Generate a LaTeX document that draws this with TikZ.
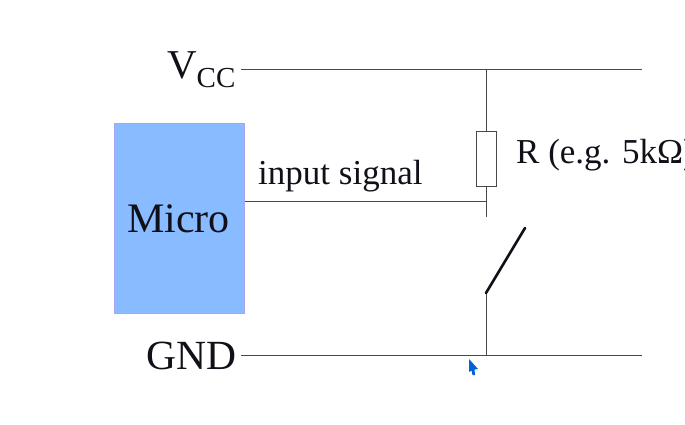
\documentclass[tikz,border=0pt]{standalone}
\usepackage{fontspec}
\setmainfont{Liberation Serif}
\definecolor{microblue}{HTML}{88BBFF}
\definecolor{microedge}{HTML}{A8A4F4}
\definecolor{wire}{HTML}{484848}
\definecolor{ink}{HTML}{101018}
\tikzset{
  wireline/.style={draw=wire,line width=0.95pt},
  microbox/.style={draw=microedge,fill=microblue,line width=0.7pt,minimum width=130pt,minimum height=190pt,inner sep=0pt,outer sep=0pt,anchor=north west},
  resbox/.style={draw=wire,fill=white,line width=1pt,minimum width=20pt,minimum height=54pt,inner sep=0pt},
  lab/.style={inner sep=0pt,text=ink,anchor=base west},
  switcharm/.style={draw=ink,line width=2.6pt,line cap=round},
}
\begin{document}
\begin{tikzpicture}[x=1pt,y=-1pt]
\useasboundingbox (0,0) rectangle (685,425);
\node[microbox] (micro) at (114.7,123) {};
\node[lab,font=\fontsize{42}{42}\selectfont] (microlab) at (127,232) {Micro};
\node[lab,font=\fontsize{41}{41}\selectfont] (vcclab) at (167,79) {V};
\node[lab,font=\fontsize{29}{29}\selectfont] (cclab) at (196.5,88) {CC};
\node[lab,font=\fontsize{41.5}{41.5}\selectfont] (gndlab) at (146,369) {GND};
\node[lab,font=\fontsize{35}{35}\selectfont] (inlab) at (258,184) {input signal};
\node[lab,font=\fontsize{35}{35}\selectfont] (rlab) at (516,163) {R (e.g. 5kΩ)};
\coordinate (vccl) at (241,69);
\coordinate (vccr) at (642,69);
\coordinate (vcct) at (486,69);
\coordinate (gndl) at (241,355);
\coordinate (gndr) at (642,355);
\coordinate (gndt) at (486,355);
\coordinate (junc) at (486,201);
\coordinate (stub) at (486,217);
\coordinate (swa) at (486,293);
\coordinate (swb) at (525,228);
\node[resbox] (res) at (486,159) {};
\draw[wireline] (vccl) -- (vccr);
\draw[wireline] (gndl) -- (gndr);
\draw[wireline] (vcct) -- (res.north);
\draw[wireline] (res.south) -- (stub);
\draw[wireline] (micro.east |- junc) -- (junc);
\draw[wireline] (swa) -- (gndt);
\draw[switcharm] (swa) -- (swb);
\path[fill=blue!55!cyan!85!black] (469,359) -- (478,369) -- (474.5,369.5) -- (475,375) -- (472.5,375) -- (471.5,370.5) -- (469,372) -- cycle;
\end{tikzpicture}
\end{document}
